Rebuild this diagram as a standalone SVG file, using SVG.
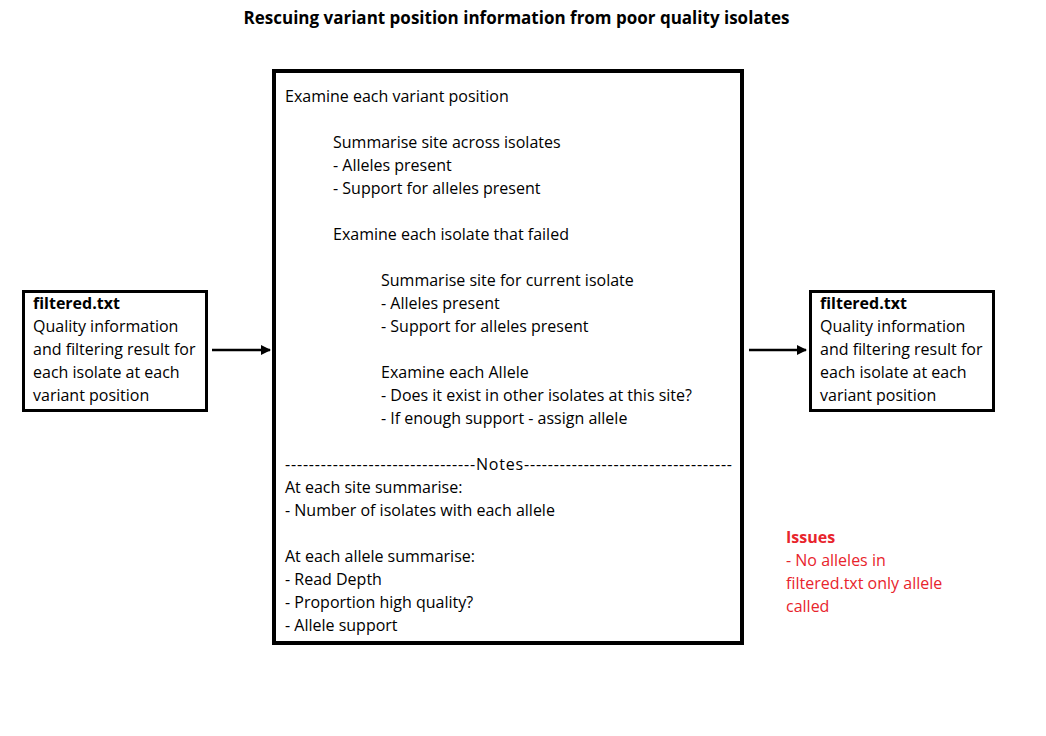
<svg xmlns="http://www.w3.org/2000/svg" width="1046" height="736" viewBox="0 0 1046 736">
<style>
text{font-family:"Open Sans","Noto Sans",sans-serif;font-size:16px;fill:#000}
.b{font-weight:bold}
.t{font-weight:bold;font-size:17px}
.r{fill:#e8242c}
.box{fill:#fff;stroke:#000;stroke-width:3}
.main{fill:#fff;stroke:#000;stroke-width:4}
.c{stroke:#000;stroke-width:2.5;fill:none;marker-end:url(#ah)}
</style>
<defs>
<marker id="ah" viewBox="0 0 10 10" refX="9" refY="5" markerWidth="4" markerHeight="4" orient="auto" markerUnits="strokeWidth"><path d="M0,0 L10,5 L0,10 z" fill="#000"/></marker>
</defs>
<rect width="1046" height="736" fill="#fff"/>
<text class="t" x="516.5" y="24" text-anchor="middle">Rescuing variant position information from poor quality isolates</text>
<g id="input">
<rect class="box" x="23.5" y="291.5" width="183" height="119"/>
<text class="b" x="33" y="309">filtered.txt</text>
<text x="33" y="332">Quality information</text>
<text x="33" y="355">and filtering result for</text>
<text x="33" y="378">each isolate at each</text>
<text x="33" y="401">variant position</text>
</g>
<g id="process">
<rect class="main" x="274" y="71" width="468" height="572"/>
<text x="285" y="102">Examine each variant position</text>
<text x="333" y="148">Summarise site across isolates</text>
<text x="333" y="171">- Alleles present</text>
<text x="333" y="194">- Support for alleles present</text>
<text x="333" y="240">Examine each isolate that failed</text>
<text x="381" y="286">Summarise site for current isolate</text>
<text x="381" y="309">- Alleles present</text>
<text x="381" y="332">- Support for alleles present</text>
<text x="381" y="378">Examine each Allele</text>
<text x="381" y="401">- Does it exist in other isolates at this site?</text>
<text x="381" y="424">- If enough support - assign allele</text>
<text x="285" y="470" textLength="447" lengthAdjust="spacing">--------------------------------Notes-----------------------------------</text>
<text x="285" y="493">At each site summarise:</text>
<text x="285" y="516">- Number of isolates with each allele</text>
<text x="285" y="562">At each allele summarise:</text>
<text x="285" y="585">- Read Depth</text>
<text x="285" y="608">- Proportion high quality?</text>
<text x="285" y="631">- Allele support</text>
</g>
<g id="output">
<rect class="box" x="810.5" y="291.5" width="183" height="119"/>
<text class="b" x="820" y="309">filtered.txt</text>
<text x="820" y="332">Quality information</text>
<text x="820" y="355">and filtering result for</text>
<text x="820" y="378">each isolate at each</text>
<text x="820" y="401">variant position</text>
</g>
<g id="issues">
<text class="b r" x="786" y="543">Issues</text>
<text class="r" x="786" y="566">- No alleles in</text>
<text class="r" x="786" y="589">filtered.txt only allele</text>
<text class="r" x="786" y="612">called</text>
</g>
<g id="connectors">
<line class="c" x1="212" y1="350" x2="270" y2="350"/>
<line class="c" x1="749" y1="350" x2="806" y2="350"/>
</g>
</svg>
